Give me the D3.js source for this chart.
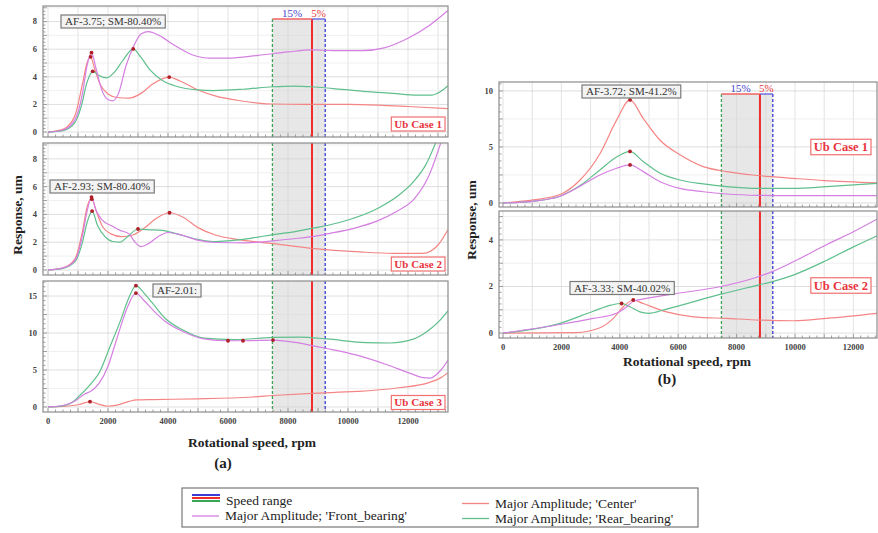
<!DOCTYPE html>
<html>
<head>
<meta charset="utf-8">
<script src="https://cdn.jsdelivr.net/npm/d3@7"></script>
<style>
  body { margin: 0; background: #fff; }
  svg { display: block; font-family: "Liberation Serif", "Times New Roman", serif; }
</style>
</head>
<body>
<div id="chart"></div>
<script>
'use strict'

////////////////////////////////////
//////////// data //////////////////
////////////////////////////////////

const rpmTicks = [0, 2000, 4000, 6000, 8000, 10000, 12000]
const yTicksA12 = [0, 2, 4, 6, 8]
const yTicksA3 = [0, 5, 10, 15]
const yTicksB1 = [0, 5, 10]
const yTicksB2 = [0, 2, 4]

const operatingSpeed = 8800
const lowerLimit = 7480   // -15%
const upperLimit = 9240   // +5%
const marginLabels = ['15%', '5%']

const caseLabels = ['Ub Case 1', 'Ub Case 2', 'Ub Case 3']
const notesA = ['AF-3.75; SM-80.40%', 'AF-2.93; SM-80.40%', 'AF-2.01:']
const notesB = ['AF-3.72; SM-41.2%', 'AF-3.33; SM-40.02%']

const legendNames = ['Speed range', "Major Amplitude; 'Front_bearing'", "Major Amplitude; 'Center'", "Major Amplitude; 'Rear_bearing'"]

// (a) Ub case 1  [rpm, um]
const a1Front = [[0,0],[500,0.15],[900,0.9],[1150,2.8],[1300,4.8],[1450,5.75],[1600,4.6],[1800,3.0],[2000,2.35],[2150,2.25],[2350,2.8],[2600,4.8],[2850,6.2],[3100,7.1],[3350,7.27],[3700,7.0],[4200,6.3],[4800,5.6],[5400,5.35],[6000,5.35],[7000,5.55],[8000,5.8],[8800,5.95],[9500,5.9],[10500,5.9],[11200,6.1],[12000,6.8],[12700,7.7],[13330,8.8]]
const a1Center = [[0,0],[500,0.2],[900,1.2],[1150,3.5],[1300,5.0],[1420,5.45],[1550,4.6],[1750,3.4],[2000,2.75],[2300,2.5],[2700,2.45],[3100,2.8],[3500,3.5],[4040,3.98],[4400,3.7],[5000,3.05],[5600,2.6],[6300,2.3],[7000,2.1],[7500,2.03],[8500,2.0],[10000,2.0],[11000,1.95],[12000,1.85],[13330,1.7]]
const a1Rear = [[0,0],[500,0.1],[900,0.7],[1100,1.8],[1300,3.6],[1490,4.4],[1700,4.1],[1950,3.92],[2200,4.3],[2500,5.2],[2840,6.02],[3100,5.4],[3400,4.5],[3800,3.75],[4300,3.3],[5000,3.05],[5500,3.0],[6500,3.1],[7500,3.28],[8200,3.33],[8800,3.28],[9500,3.15],[10500,2.95],[11500,2.8],[12300,2.68],[12800,2.68],[13100,2.95],[13330,3.35]]
const a1Peaks = [[1450,5.75],[1420,5.45],[1490,4.4],[2840,6.02],[4040,3.98]]

// (a) Ub case 2
const a2Front = [[0,0],[500,0.15],[900,0.7],[1150,2.5],[1300,4.2],[1450,5.2],[1600,4.3],[1800,3.6],[2100,3.2],[2400,2.85],[2700,2.6],[2900,2.0],[3100,1.68],[3350,1.9],[3700,2.45],[4000,2.7],[4400,2.55],[5000,2.15],[5600,1.98],[6600,1.95],[7500,2.1],[8200,2.25],[8800,2.4],[9300,2.6],[10200,3.0],[11000,3.55],[11600,4.2],[12200,5.1],[12700,6.8],[13100,9.2]]
const a2Center = [[0,0],[500,0.15],[900,0.8],[1150,2.8],[1300,4.5],[1460,5.15],[1600,4.3],[1800,3.2],[2100,2.6],[2450,2.4],[2800,2.5],[3200,3.0],[3600,3.7],[4050,4.12],[4500,3.8],[5000,3.05],[5600,2.5],[6300,2.2],[7500,1.9],[8800,1.56],[10400,1.3],[11500,1.2],[12500,1.2],[13000,1.8],[13330,2.9]]
const a2Rear = [[0,0],[500,0.12],[900,0.6],[1150,2.0],[1300,3.4],[1470,4.24],[1650,3.2],[1900,2.4],[2150,2.05],[2400,2.0],[2650,2.4],[3000,2.95],[3300,2.9],[3800,2.85],[4300,2.6],[5000,2.2],[5500,2.05],[6000,2.1],[6800,2.3],[7500,2.55],[8200,2.75],[8800,3.0],[9300,3.2],[10000,3.6],[11000,4.45],[11700,5.4],[12200,6.4],[12600,7.6],[12930,9.2]]
const a2Peaks = [[1450,5.25],[1460,5.1],[1470,4.24],[3000,2.95],[4050,4.12]]

// (a) Ub case 3
const a3Front = [[0,0],[500,0.2],[900,0.8],[1200,1.7],[1450,2.2],[1700,3.2],[2000,5.5],[2200,8.0],[2400,10.6],[2650,13.5],[2930,15.4],[3200,14.4],[3500,13.1],[3900,11.6],[4500,10.2],[5200,9.2],[6000,8.95],[6500,8.95],[7500,9.05],[8300,8.7],[8800,8.3],[9300,7.9],[10300,7.0],[11300,5.7],[12100,4.5],[12500,3.96],[12750,3.9],[12950,4.4],[13100,5.0],[13330,6.3]]
const a3Center = [[0,0],[600,0.1],[1000,0.3],[1400,0.72],[1700,0.35],[2000,0.1],[2300,0.25],[2700,0.75],[2950,0.95],[3500,1.0],[5000,1.1],[6800,1.35],[7500,1.55],[8800,1.85],[10300,2.1],[11700,2.6],[12700,3.3],[13070,3.9],[13330,4.6]]
const a3Rear = [[0,0],[500,0.15],[800,0.6],[1070,1.6],[1400,3.0],[1730,4.8],[2050,8.0],[2400,11.5],[2700,14.8],[2930,16.4],[3200,15.4],[3450,14.2],[3900,12.0],[4500,10.4],[5200,9.3],[6200,9.1],[7500,9.4],[8400,9.45],[9300,9.2],[10600,8.7],[11400,8.65],[12200,9.2],[12700,10.4],[13070,11.75],[13330,13.0]]
const a3Peaks = [[1400,0.72],[2930,16.4],[2930,15.4],[6000,8.95],[6500,8.95],[7500,9.05]]

// (b) Ub case 1
const b1Front = [[0,0],[1000,0.15],[1950,0.6],[2640,1.5],[3320,2.5],[3890,3.1],[4350,3.4],[4800,2.8],[5380,1.9],[6060,1.3],[6860,1.0],[7660,0.8],[8740,0.68],[9940,0.65],[12850,0.65]]
const b1Center = [[0,0],[1040,0.27],[1950,0.75],[2640,2.05],[3320,4.4],[3890,7.4],[4350,9.2],[4800,7.56],[5380,5.6],[6060,4.3],[6860,3.24],[7660,2.8],[8740,2.45],[9940,2.2],[11000,2.0],[12850,1.8]]
const b1Rear = [[0,0],[1000,0.15],[1950,0.6],[2640,1.55],[3320,2.95],[3890,4.1],[4350,4.6],[4800,3.7],[5380,2.65],[6060,2.05],[6860,1.7],[7660,1.46],[8740,1.3],[9940,1.3],[11090,1.46],[12850,1.76]]
const b1Peaks = [[4350,9.2],[4350,4.6],[4350,3.4]]

// (b) Ub case 2
const b2Front = [[0,0],[1950,0.37],[3090,0.63],[3890,0.85],[4240,1.13],[4460,1.37],[4920,1.49],[5950,1.7],[7430,1.99],[8740,2.42],[9200,2.63],[9940,3.06],[11090,3.8],[12000,4.35],[12850,4.92]]
const b2Center = [[0,0],[2500,0.02],[3320,0.23],[3780,0.63],[4120,1.13],[4460,1.42],[4800,1.27],[5600,0.91],[6520,0.7],[7660,0.63],[8800,0.56],[9940,0.53],[11090,0.63],[12850,0.85]]
const b2Rear = [[0,0],[1950,0.42],[3090,0.94],[3700,1.2],[4060,1.27],[4350,1.13],[4690,0.91],[4980,0.85],[5600,1.03],[7430,1.66],[8740,2.06],[9200,2.2],[9940,2.49],[11090,3.13],[12000,3.7],[12850,4.2]]
const b2Peaks = [[4060,1.27],[4460,1.42]]

////////////////////////////////////
//////////// svg setup /////////////
////////////////////////////////////

const svgWidth = 878, svgHeight = 533

const svg = d3.select('#chart')
    .append('svg')
    .attr('width', svgWidth)
    .attr('height', svgHeight)

const defs = svg.append('defs')

const colors = {
    front: '#d57fe2',
    center: '#f58585',
    rear: '#5fbf8d',
    low: '#3aa655',
    op: '#ee2e2e',
    high: '#3b3bd6',
    peak: '#b01e28'
}

// panel layout (pixel boxes are layout, not data)
const panels = [
    {front: a1Front, center: a1Center, rear: a1Rear, peaks: a1Peaks, yTicks: yTicksA12, yStep: 1,
     box: [43, 448, 6, 137], x: [-167, 13333], y: [-0.36, 9.13], bracket: 13, xLabels: false,
     note: notesA[0], noteAt: [61, 21.5], label: caseLabels[0], labelAt: [445, 124], labelSize: 11, tick: 8.5},
    {front: a2Front, center: a2Center, rear: a2Rear, peaks: a2Peaks, yTicks: yTicksA12, yStep: 1,
     box: [43, 448, 143, 275], x: [-167, 13333], y: [-0.36, 9.14], bracket: 0, xLabels: false,
     note: notesA[1], noteAt: [50, 186.5], label: caseLabels[1], labelAt: [445, 264], labelSize: 11, tick: 8.5},
    {front: a3Front, center: a3Center, rear: a3Rear, peaks: a3Peaks, yTicks: yTicksA3, yStep: 2.5,
     box: [43, 448, 281, 412], x: [-167, 13333], y: [-0.68, 17.03], bracket: 0, xLabels: true,
     note: notesA[2], noteAt: [153, 290.5], label: caseLabels[2], labelAt: [445, 402.5], labelSize: 11, tick: 8.5},
    {front: b1Front, center: b1Center, rear: b1Rear, peaks: b1Peaks, yTicks: yTicksB1, yStep: 2.5,
     box: [499, 877, 82, 207], x: [-137, 12808], y: [-0.36, 10.8], bracket: 12, xLabels: false,
     note: notesB[0], noteAt: [582, 91.5], label: caseLabels[0], labelAt: [871, 147], labelSize: 12.5, tick: 8.5},
    {front: b2Front, center: b2Center, rear: b2Rear, peaks: b2Peaks, yTicks: yTicksB2, yStep: 1,
     box: [499, 877, 211, 338], x: [-137, 12808], y: [-0.21, 5.24], bracket: 0, xLabels: true,
     note: notesB[1], noteAt: [570, 288], label: caseLabels[1], labelAt: [871, 285.5], labelSize: 12.5, tick: 8.5}
]

////////////////////////////////////
//////////// panels ////////////////
////////////////////////////////////

panels.forEach((p, i) => {

    const [L, R, T, B] = p.box
    const x = d3.scaleLinear().domain(p.x).range([L, R])
    const y = d3.scaleLinear().domain(p.y).range([B, T])

    defs.append('clipPath').attr('id', 'clip' + i)
        .append('rect').attr('x', L).attr('y', T).attr('width', R - L).attr('height', B - T)

    const g = svg.append('g').attr('class', 'panel')

    g.append('rect')
        .attr('x', L).attr('y', T).attr('width', R - L).attr('height', B - T)
        .attr('fill', '#fff')

    // grid
    const vGrid = d3.range(0, p.x[1], 1000)
    g.selectAll('.vgrid').data(vGrid).join('line')
        .attr('x1', d => x(d)).attr('x2', d => x(d))
        .attr('y1', T).attr('y2', B)
        .attr('stroke', '#dcdcdc').attr('stroke-width', 0.8)

    const hGrid = d3.range(0, p.y[1], p.yStep)
    g.selectAll('.hgrid').data(hGrid).join('line')
        .attr('x1', L).attr('x2', R)
        .attr('y1', d => y(d)).attr('y2', d => y(d))
        .attr('stroke', (d, j) => j % 2 == 0 ? '#d6d6d6' : '#ececec').attr('stroke-width', 0.8)

    // speed range band
    const bandTop = T + p.bracket
    g.append('rect')
        .attr('x', x(lowerLimit)).attr('y', bandTop)
        .attr('width', x(upperLimit) - x(lowerLimit)).attr('height', B - bandTop)
        .attr('fill', '#d4d4d4').attr('opacity', 0.55)

    g.append('line')
        .attr('x1', x(lowerLimit)).attr('x2', x(lowerLimit)).attr('y1', bandTop).attr('y2', B)
        .attr('stroke', colors.low).attr('stroke-width', 1.3).attr('stroke-dasharray', '3,2')
    g.append('line')
        .attr('x1', x(upperLimit)).attr('x2', x(upperLimit)).attr('y1', bandTop).attr('y2', B)
        .attr('stroke', colors.high).attr('stroke-width', 1.3).attr('stroke-dasharray', '3,2')
    g.append('line')
        .attr('x1', x(operatingSpeed)).attr('x2', x(operatingSpeed)).attr('y1', bandTop).attr('y2', B)
        .attr('stroke', colors.op).attr('stroke-width', 2)

    if (p.bracket) {
        g.append('line')
            .attr('x1', x(lowerLimit)).attr('x2', x(operatingSpeed))
            .attr('y1', bandTop).attr('y2', bandTop)
            .attr('stroke', '#f06262').attr('stroke-width', 1.3)
        g.append('line')
            .attr('x1', x(operatingSpeed)).attr('x2', x(upperLimit))
            .attr('y1', bandTop).attr('y2', bandTop)
            .attr('stroke', '#5a5ae0').attr('stroke-width', 1.3)
        g.append('text')
            .attr('x', (x(lowerLimit) + x(operatingSpeed)) / 2).attr('y', bandTop - 2)
            .attr('text-anchor', 'middle')
            .style('font-size', '11px').style('fill', '#4646cc')
            .text(marginLabels[0])
        g.append('text')
            .attr('x', (x(operatingSpeed) + x(upperLimit)) / 2).attr('y', bandTop - 2)
            .attr('text-anchor', 'middle')
            .style('font-size', '11px').style('fill', '#e83c3c')
            .text(marginLabels[1])
    }

    // curves
    const line = d3.line()
        .x(d => x(d[0]))
        .y(d => y(d[1]))
        .curve(d3.curveMonotoneX)

    const curves = g.append('g').attr('clip-path', `url(#clip${i})`)

    curves.append('path').datum(p.center).attr('d', line)
        .attr('fill', 'none').attr('stroke', colors.center).attr('stroke-width', 1.2)
    curves.append('path').datum(p.rear).attr('d', line)
        .attr('fill', 'none').attr('stroke', colors.rear).attr('stroke-width', 1.2)
    curves.append('path').datum(p.front).attr('d', line)
        .attr('fill', 'none').attr('stroke', colors.front).attr('stroke-width', 1.2)

    curves.selectAll('.peak').data(p.peaks).join('circle')
        .attr('cx', d => x(d[0])).attr('cy', d => y(d[1]))
        .attr('r', 1.9).attr('fill', colors.peak)

    // minor ticks along bottom and left
    const xMinor = d3.range(0, p.x[1], 250)
    g.selectAll('.xminor').data(xMinor).join('line')
        .attr('x1', d => x(d)).attr('x2', d => x(d))
        .attr('y1', B).attr('y2', d => d % 1000 == 0 ? B - 4 : B - 2.5)
        .attr('stroke', '#8a8a8a').attr('stroke-width', 0.8)

    const yMinor = d3.range(0, p.y[1], p.yStep / 4)
    g.selectAll('.yminor').data(yMinor).join('line')
        .attr('x1', L).attr('x2', (d, j) => j % 4 == 0 ? L + 4 : L + 2.5)
        .attr('y1', d => y(d)).attr('y2', d => y(d))
        .attr('stroke', '#8a8a8a').attr('stroke-width', 0.8)

    // border
    g.append('rect')
        .attr('x', L).attr('y', T).attr('width', R - L).attr('height', B - T)
        .attr('fill', 'none').attr('stroke', '#8c8c8c').attr('stroke-width', 1.2)

    // tick labels
    g.selectAll('.ylab').data(p.yTicks).join('text')
        .attr('x', L - 6).attr('y', d => y(d))
        .attr('dy', '0.34em')
        .attr('text-anchor', 'end')
        .style('font-size', p.tick + 'px').style('font-weight', 'bold').style('fill', '#444')
        .text(d => d)

    if (p.xLabels) {
        g.selectAll('.xlab').data(rpmTicks).join('text')
            .attr('x', d => x(d)).attr('y', B + 12)
            .attr('text-anchor', 'middle')
            .style('font-size', p.tick + 'px').style('font-weight', 'bold').style('fill', '#444')
            .text(d => d)
    }

    // note box
    const note = g.append('g')
    const noteText = note.append('text')
        .attr('x', p.noteAt[0] + 4).attr('y', p.noteAt[1])
        .attr('dy', '0.35em')
        .style('font-size', '11px').style('fill', '#333')
        .text(p.note)
    const nw = noteText.node().getComputedTextLength()
    note.insert('rect', 'text')
        .attr('x', p.noteAt[0]).attr('y', p.noteAt[1] - 6.5)
        .attr('width', nw + 8).attr('height', 13)
        .attr('fill', '#f3f3f3').attr('stroke', '#7a7a7a').attr('stroke-width', 1.2)

    // case label
    const lab = g.append('g')
    const labText = lab.append('text')
        .attr('x', p.labelAt[0] - 3).attr('y', p.labelAt[1])
        .attr('dy', '0.35em')
        .attr('text-anchor', 'end')
        .style('font-size', p.labelSize + 'px').style('font-weight', 'bold').style('fill', '#e8343c')
        .text(p.label)
    const lw = labText.node().getComputedTextLength()
    const lh = p.labelSize + 3
    lab.insert('rect', 'text')
        .attr('x', p.labelAt[0] - lw - 6).attr('y', p.labelAt[1] - lh / 2)
        .attr('width', lw + 6).attr('height', lh)
        .attr('fill', '#fff').attr('stroke', '#f27070').attr('stroke-width', 1.2)
})

////////////////////////////////////
//////////// axis titles ///////////
////////////////////////////////////

const titleStyle = sel => sel.style('font-size', '13.5px').style('font-weight', 'bold').style('fill', '#222')

svg.append('text').attr('x', 252).attr('y', 447).attr('text-anchor', 'middle')
    .call(titleStyle).text('Rotational speed, rpm')
svg.append('text').attr('x', 687).attr('y', 366).attr('text-anchor', 'middle')
    .call(titleStyle).text('Rotational speed, rpm')

svg.append('text').attr('transform', 'translate(22,215) rotate(-90)').attr('text-anchor', 'middle')
    .call(titleStyle).text('Response, um')
svg.append('text').attr('transform', 'translate(476,220) rotate(-90)').attr('text-anchor', 'middle')
    .call(titleStyle).text('Response, um')

svg.append('text').attr('x', 223).attr('y', 468).attr('text-anchor', 'middle')
    .style('font-size', '15px').style('font-weight', 'bold').style('fill', '#222').text('(a)')
svg.append('text').attr('x', 667).attr('y', 384).attr('text-anchor', 'middle')
    .style('font-size', '15px').style('font-weight', 'bold').style('fill', '#222').text('(b)')

////////////////////////////////////
//////////// legend ////////////////
////////////////////////////////////

const legend = svg.append('g')

legend.append('rect')
    .attr('x', 182).attr('y', 488).attr('width', 516).attr('height', 39)
    .attr('fill', '#fff').attr('stroke', '#777').attr('stroke-width', 1.2)

const rangeColors = [colors.high, colors.op, colors.low]
rangeColors.forEach((c, j) => {
    legend.append('line')
        .attr('x1', 192).attr('x2', 220)
        .attr('y1', 495 + j * 3).attr('y2', 495 + j * 3)
        .attr('stroke', c).attr('stroke-width', 2)
})

const legendItems = [
    {name: legendNames[1], color: colors.front, x: 192, y: 516},
    {name: legendNames[2], color: colors.center, x: 462, y: 503.5},
    {name: legendNames[3], color: colors.rear, x: 462, y: 518.5}
]

legend.append('text')
    .attr('x', 226).attr('y', 501).attr('dy', '0.33em')
    .style('font-size', '13.5px').style('fill', '#222')
    .text(legendNames[0])

legendItems.forEach(d => {
    legend.append('line')
        .attr('x1', d.x).attr('x2', d.x + 27)
        .attr('y1', d.y).attr('y2', d.y)
        .attr('stroke', d.color).attr('stroke-width', 1.3)
    legend.append('text')
        .attr('x', d.x + 33).attr('y', d.y).attr('dy', '0.33em')
        .style('font-size', '13.5px').style('fill', '#222')
        .text(d.name)
})

</script>
</body>
</html>
